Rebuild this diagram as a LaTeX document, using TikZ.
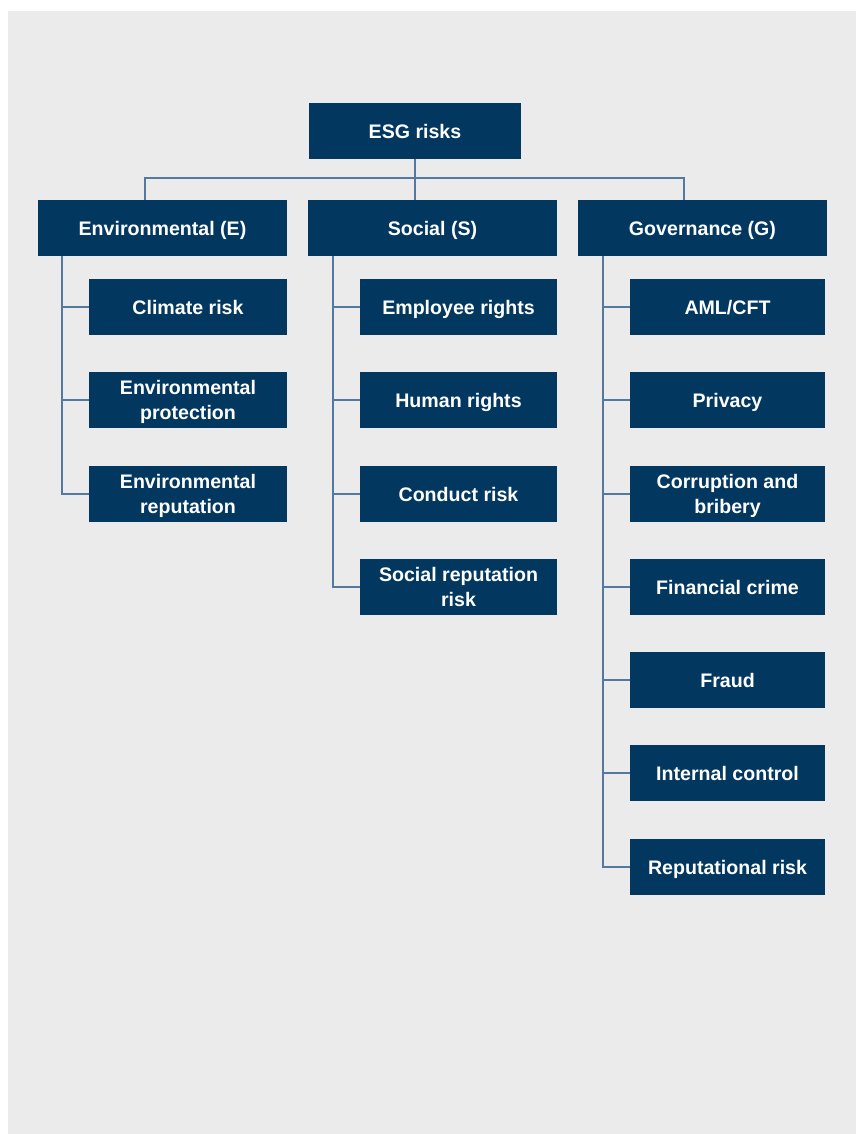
\documentclass[tikz,border=0pt]{standalone}
\usepackage{fontspec}
\setmainfont{Liberation Sans}
\definecolor{navy}{HTML}{023760}
\definecolor{panel}{HTML}{EBEBEB}
\definecolor{wire}{HTML}{5479A0}
\begin{document}
\begin{tikzpicture}[x=1pt, y=-1pt,
  box/.style={fill=navy, text=white, font=\bfseries\fontsize{19.6}{25}\selectfont,
    align=center, inner sep=0pt, text depth=0pt, minimum height=56pt},
  head/.style={box, minimum width=249pt},
  leafE/.style={box, minimum width=198pt},
  leafS/.style={box, minimum width=197pt},
  leafG/.style={box, minimum width=195pt},
  link/.style={draw=wire, line width=1.1pt}]
% page and panel
\useasboundingbox (0,0) rectangle (856,1134);
\fill[panel] (8,11) rectangle (856,1134);
% top level
\node[box, minimum width=212pt] (esg) at (415,131) {ESG risks};
\node[head] (env) at (162.5,228) {Environmental (E)};
\node[head] (soc) at (432.5,228) {Social (S)};
\node[head] (gov) at (702.5,228) {Governance (G)};
% environmental
\node[leafE] (e1) at (188,307) {Climate risk};
\node[leafE] (e2) at (188,400) {Environmental\\protection};
\node[leafE] (e3) at (188,494) {Environmental\\reputation};
% social
\node[leafS] (s1) at (458.5,307) {Employee rights};
\node[leafS] (s2) at (458.5,400) {Human rights};
\node[leafS] (s3) at (458.5,494) {Conduct risk};
\node[leafS] (s4) at (458.5,587) {Social reputation\\risk};
% governance
\node[leafG] (g1) at (727.5,307) {AML/CFT};
\node[leafG] (g2) at (727.5,400) {Privacy};
\node[leafG] (g3) at (727.5,494) {Corruption and\\bribery};
\node[leafG] (g4) at (727.5,587) {Financial crime};
\node[leafG] (g5) at (727.5,680) {Fraud};
\node[leafG] (g6) at (727.5,773) {Internal control};
\node[leafG] (g7) at (727.5,867) {Reputational risk};
% bus from the top box
\coordinate (busE) at (145,178); \coordinate (busG) at (684,178);
\draw[link] (esg.south) -- (esg.south |- soc.north);
\draw[link] (busE |- env.north) -- (busE) -- (busG) -- (busG |- gov.north);
% trunks to the leaves
\coordinate (trE) at (62,0); \coordinate (trS) at (333,0); \coordinate (trG) at (603,0);
\draw[link] (trE |- env.south) |- (e3.west);
\draw[link] (trS |- soc.south) |- (s4.west);
\draw[link] (trG |- gov.south) |- (g7.west);
\foreach \i in {1,2} \draw[link] (trE |- e\i.west) -- (e\i.west);
\foreach \i in {1,2,3} \draw[link] (trS |- s\i.west) -- (s\i.west);
\foreach \i in {1,...,6} \draw[link] (trG |- g\i.west) -- (g\i.west);
\end{tikzpicture}
\end{document}
